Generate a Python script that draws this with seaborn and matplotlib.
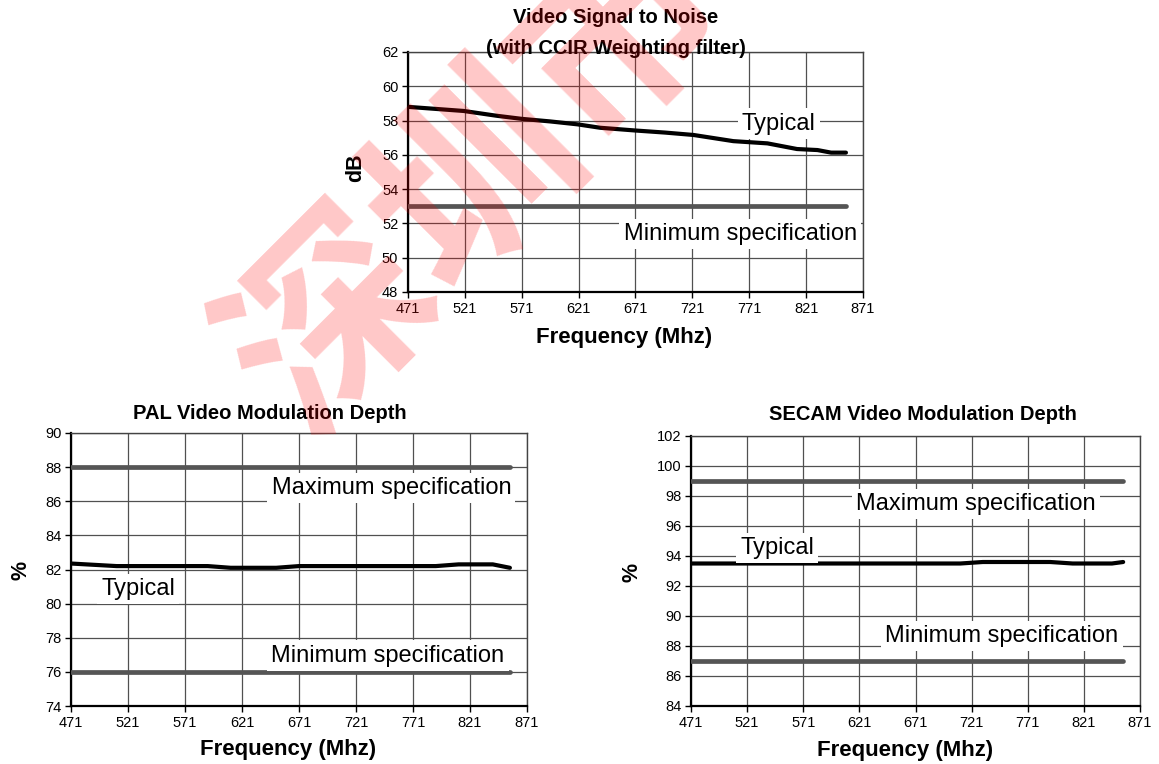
import matplotlib
matplotlib.use("Agg")
import matplotlib.pyplot as plt
import seaborn as sns
import pandas as pd

sns.set_style("white")
plt.rcParams["font.family"] = ["Liberation Sans", "DejaVu Sans"]
plt.rcParams["text.color"] = "black"
plt.rcParams["axes.labelcolor"] = "black"
plt.rcParams["axes.titlecolor"] = "black"

# Frequency axis ticks (MHz)
freq_ticks = [471, 521, 571, 621, 671, 721, 771, 821, 871]

# Video signal to noise, typical (dB)
snr_freq = [471, 520, 549, 571, 596, 620, 640, 671, 697, 722, 757, 787, 813, 831, 843, 856]
snr_typ = [58.8, 58.56, 58.28, 58.1, 57.95, 57.78, 57.58, 57.42, 57.3, 57.16, 56.8, 56.67, 56.34, 56.28, 56.13, 56.13]
snr_min = 53.0
snr_ticks = [48, 50, 52, 54, 56, 58, 60, 62]

# PAL modulation depth (%)
pal_freq = [471, 511, 591, 611, 651, 671, 791, 811, 841, 856]
pal_typ = [82.35, 82.2, 82.2, 82.1, 82.1, 82.2, 82.2, 82.3, 82.3, 82.1]
pal_max = 88.0
pal_min = 76.0
pal_ticks = [74, 76, 78, 80, 82, 84, 86, 88, 90]

# SECAM modulation depth (%)
secam_freq = [471, 711, 731, 791, 811, 846, 856]
secam_typ = [93.5, 93.5, 93.6, 93.6, 93.5, 93.5, 93.6]
secam_max = 99.0
secam_min = 87.0
secam_ticks = [84, 86, 88, 90, 92, 94, 96, 98, 100, 102]

spec_span = [471, 856]

W, H = 1159, 764
fig = plt.figure(figsize=(W / 100, H / 100), dpi=100)


def px_axes(x0, y0, x1, y1):
    return fig.add_axes([x0 / W, 1 - y1 / H, (x1 - x0) / W, (y1 - y0) / H])


def style_axes(ax, yticks, ylabel, title, title_xy, xlabel_xy, ylabel_xy):
    ax.set_xlim(freq_ticks[0], freq_ticks[-1])
    ax.set_ylim(yticks[0], yticks[-1])
    ax.set_xticks(freq_ticks)
    ax.set_yticks(yticks)
    ax.grid(True, color="#505050", linewidth=0.9)
    ax.set_axisbelow(True)
    for side in ["top", "right"]:
        ax.spines[side].set_color("#444444")
        ax.spines[side].set_linewidth(1.0)
    for side in ["left", "bottom"]:
        ax.spines[side].set_color("black")
        ax.spines[side].set_linewidth(1.6)
    ax.tick_params(axis="both", direction="out", length=4, width=1,
                   labelsize=10.5, pad=3, colors="black", bottom=True, left=True)
    ax.set_xlabel("Frequency (Mhz)", fontsize=16, fontweight="bold", va="center")
    ax.xaxis.set_label_coords(*xlabel_xy)
    ax.set_ylabel(ylabel, fontsize=15.5, fontweight="bold", va="center")
    ax.yaxis.set_label_coords(*ylabel_xy)
    ax.set_title(title, fontsize=14.5, fontweight="bold", x=title_xy[0], y=title_xy[1],
                 va="center", linespacing=1.85, pad=0)


def spec_line(ax, value):
    df = pd.DataFrame({"f": spec_span, "v": [value, value]})
    sns.lineplot(data=df, x="f", y="v", ax=ax, color="#555555", linewidth=3.4, zorder=3)


def typ_line(ax, f, v):
    df = pd.DataFrame({"f": f, "v": v})
    sns.lineplot(data=df, x="f", y="v", ax=ax, color="black", linewidth=3.0, zorder=4)


def label(ax, x, y, s):
    ax.text(x, y, s, fontsize=17, ha="center", va="center", zorder=5,
            bbox=dict(facecolor="white", edgecolor="none", pad=3))


# Top: signal to noise
ax1 = px_axes(408, 52, 863, 292)
spec_line(ax1, snr_min)
typ_line(ax1, snr_freq, snr_typ)
style_axes(ax1, snr_ticks, "dB", "Video Signal to Noise\n(with CCIR Weighting filter)",
           (0.456, 1.079), (0.475, -0.1875), (-0.115, 0.52))
label(ax1, 797, 57.82, "Typical")
label(ax1, 763, 51.38, "Minimum specification")

# Bottom left: PAL
ax2 = px_axes(71, 433, 527, 706)
spec_line(ax2, pal_max)
spec_line(ax2, pal_min)
typ_line(ax2, pal_freq, pal_typ)
style_axes(ax2, pal_ticks, "%", "PAL Video Modulation Depth",
           (0.436, 1.073), (0.476, -0.161), (-0.11, 0.498))
label(ax2, 752, 86.78, "Maximum specification")
label(ax2, 530, 80.85, "Typical")
label(ax2, 749, 76.95, "Minimum specification")

# Bottom right: SECAM
ax3 = px_axes(691, 436, 1140, 706)
spec_line(ax3, secam_max)
spec_line(ax3, secam_min)
typ_line(ax3, secam_freq, secam_typ)
style_axes(ax3, secam_ticks, "%", "SECAM Video Modulation Depth",
           (0.517, 1.078), (0.477, -0.163), (-0.131, 0.494))
label(ax3, 725, 97.47, "Maximum specification")
label(ax3, 547.6, 94.54, "Typical")
label(ax3, 748, 88.67, "Minimum specification")

# Red watermark across the upper left
fig.text(478 / W, 1 - 182 / H, "深圳市", fontsize=146, rotation=45, fontweight="semibold",
         color=(1.0, 0.0, 0.0, 0.22), ha="center", va="center",
         family=["Noto Sans CJK SC", "DejaVu Sans"], zorder=10)

fig.savefig("out.png", dpi=100)
